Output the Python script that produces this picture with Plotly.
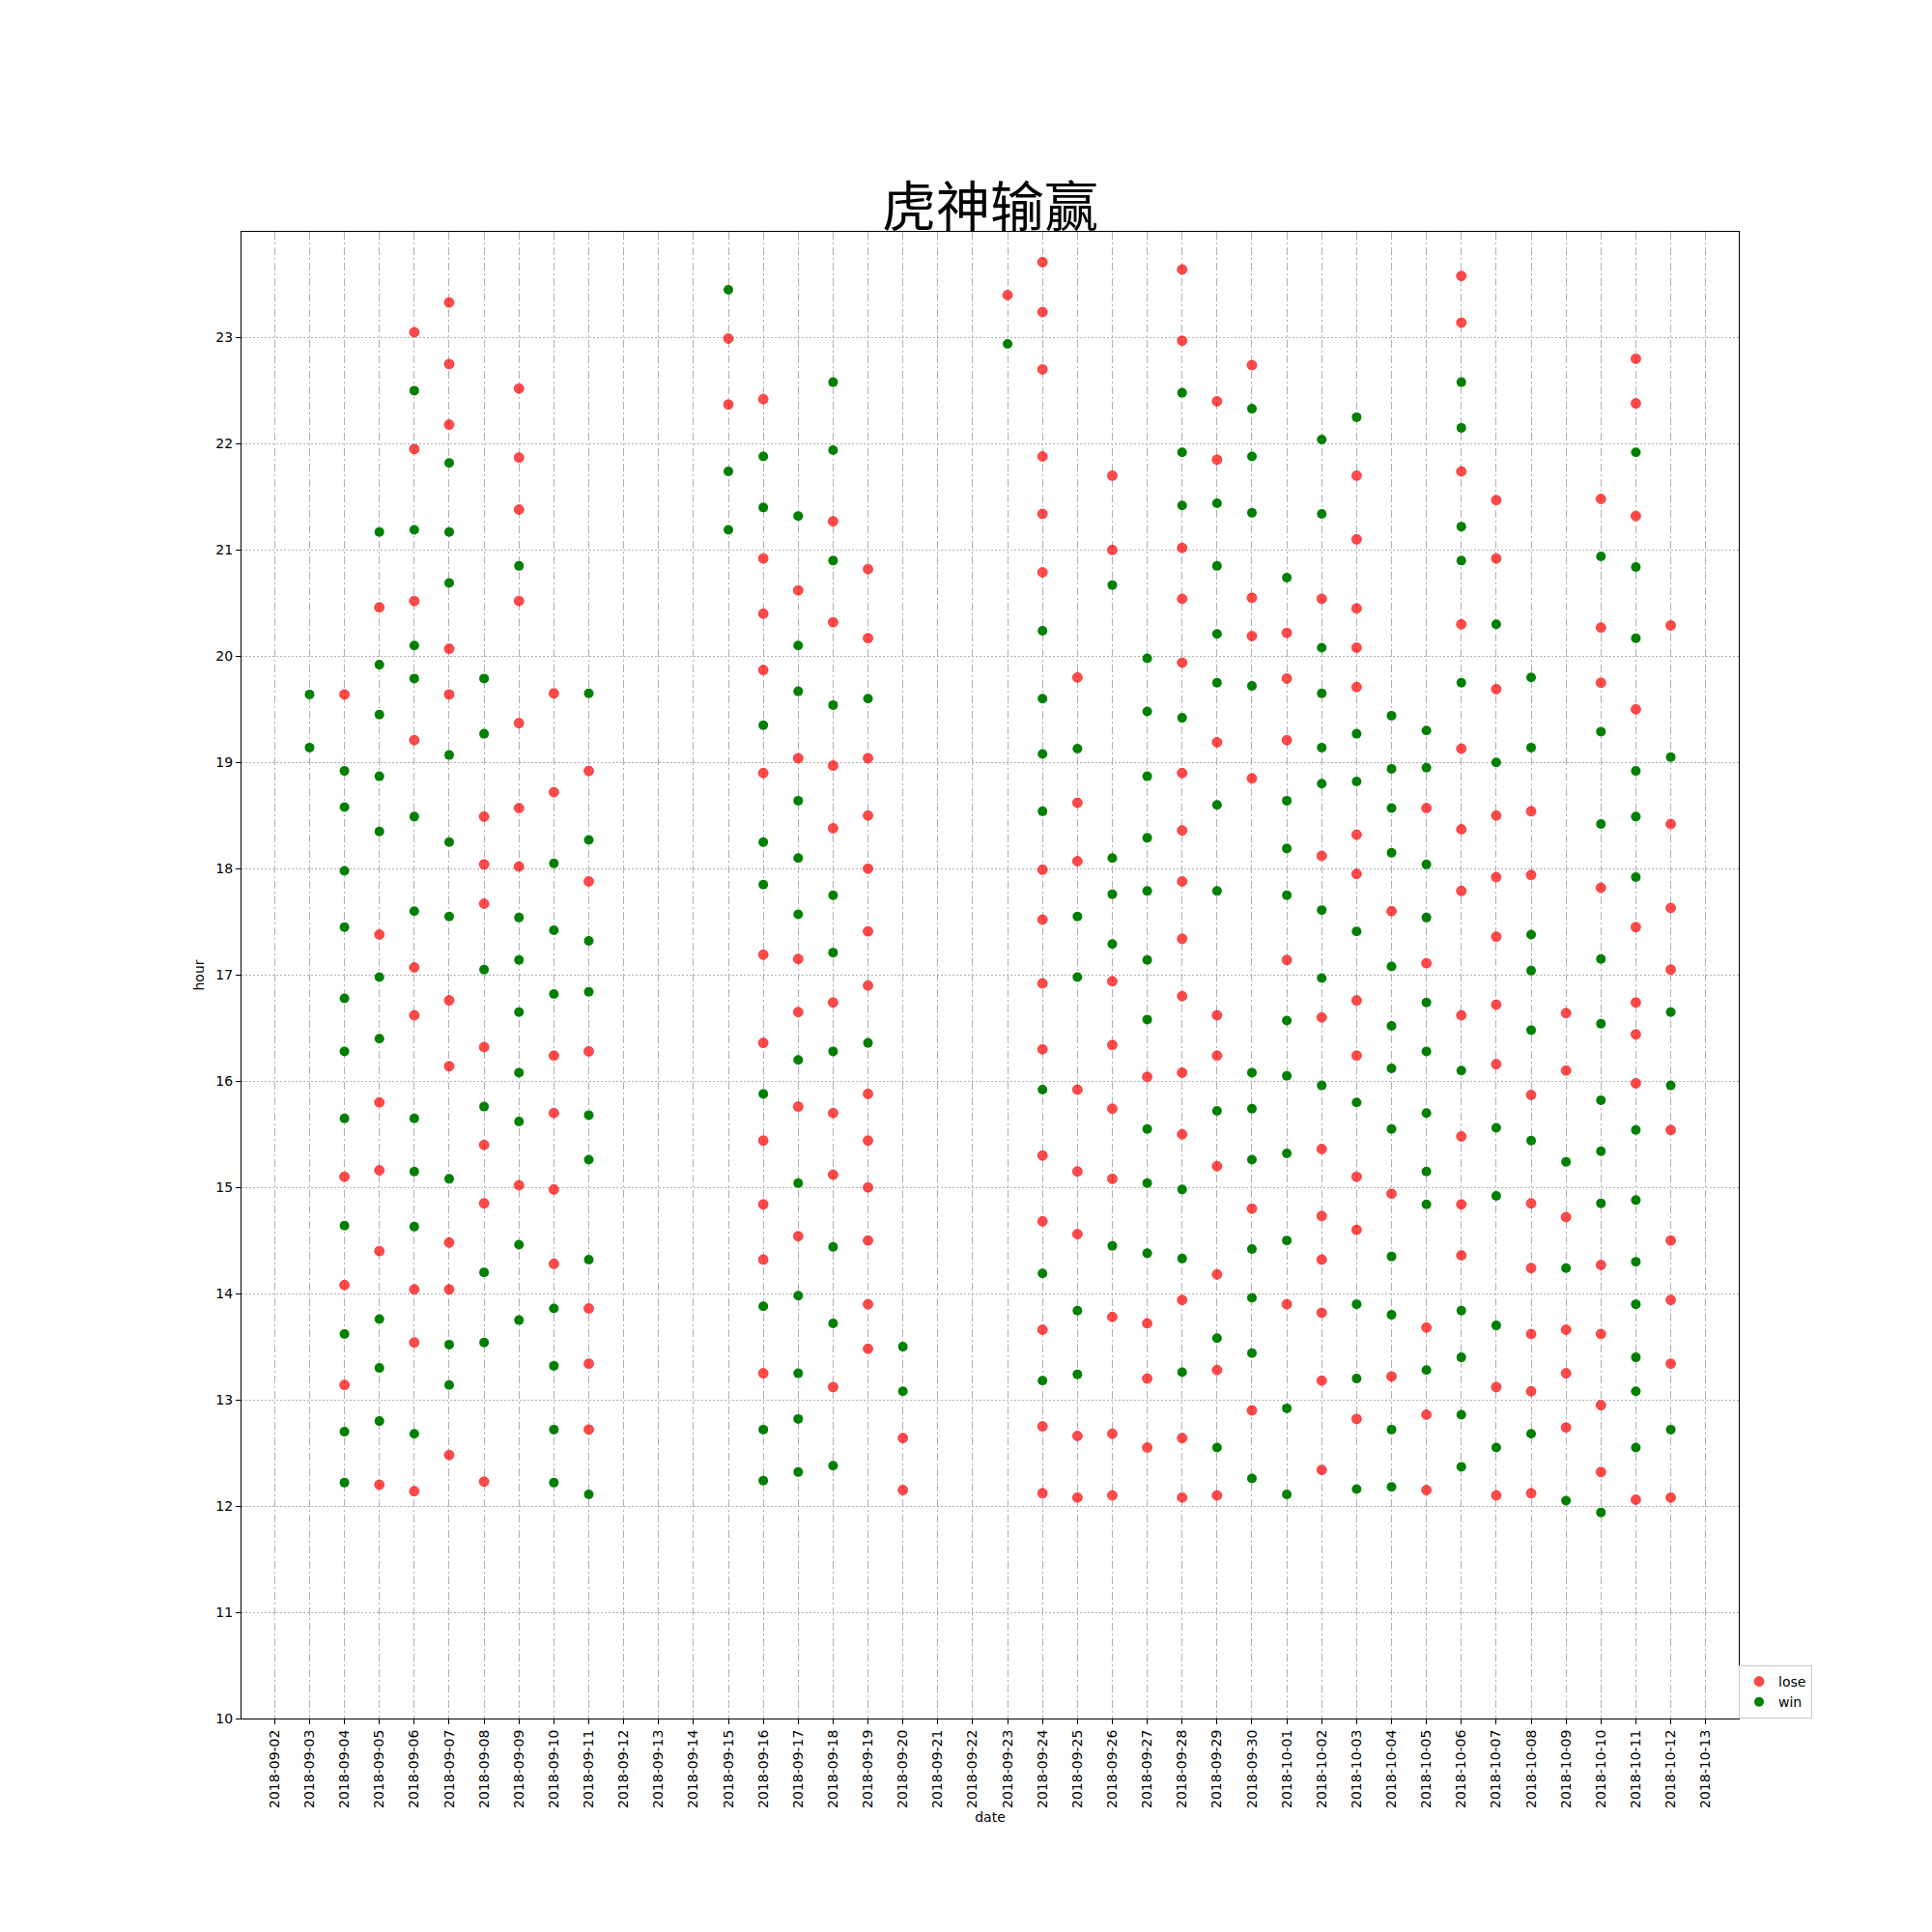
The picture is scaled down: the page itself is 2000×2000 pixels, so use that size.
import plotly.graph_objects as go

# ---- data: hours per date ----
lose_by_date = {
    "2018-09-04": [19.64, 15.10, 14.08, 13.14],
    "2018-09-05": [20.46, 17.38, 15.80, 15.16, 14.40, 12.20],
    "2018-09-06": [23.05, 21.95, 20.52, 19.21, 17.07, 16.62, 14.04, 13.54, 12.14],
    "2018-09-07": [23.33, 22.75, 22.18, 20.07, 19.64, 16.76, 16.14, 14.48, 14.04, 12.48],
    "2018-09-08": [18.49, 18.04, 17.67, 16.32, 15.40, 14.85, 12.23],
    "2018-09-09": [22.52, 21.87, 21.38, 20.52, 19.37, 18.57, 18.02, 15.02],
    "2018-09-10": [19.65, 18.72, 16.24, 15.70, 14.98, 14.28],
    "2018-09-11": [18.92, 17.88, 16.28, 13.86, 13.34, 12.72],
    "2018-09-15": [22.99, 22.37],
    "2018-09-16": [22.42, 20.92, 20.40, 19.87, 18.90, 17.19, 16.36, 15.44, 14.84, 14.32, 13.25],
    "2018-09-17": [20.62, 19.04, 17.15, 16.65, 15.76, 14.54],
    "2018-09-18": [21.27, 20.32, 18.97, 18.38, 16.74, 15.70, 15.12, 13.12],
    "2018-09-19": [20.82, 20.17, 19.04, 18.50, 18.00, 17.41, 16.90, 15.88, 15.44, 15.00, 14.50, 13.90, 13.48],
    "2018-09-20": [12.64, 12.15],
    "2018-09-23": [23.40],
    "2018-09-24": [23.71, 23.24, 22.70, 21.88, 21.34, 20.79, 17.99, 17.52, 16.92, 16.30, 15.30, 14.68, 13.66, 12.75, 12.12],
    "2018-09-25": [19.80, 18.62, 18.07, 15.92, 15.15, 14.56, 12.66, 12.08],
    "2018-09-26": [21.70, 21.00, 16.94, 16.34, 15.74, 15.08, 13.78, 12.68, 12.10],
    "2018-09-27": [16.04, 13.72, 13.20, 12.55],
    "2018-09-28": [23.64, 22.97, 21.02, 20.54, 19.94, 18.90, 18.36, 17.88, 17.34, 16.80, 16.08, 15.50, 13.94, 12.64, 12.08],
    "2018-09-29": [22.40, 21.85, 19.19, 16.62, 16.24, 15.20, 14.18, 13.28, 12.10],
    "2018-09-30": [22.74, 20.55, 20.19, 18.85, 14.80, 12.90],
    "2018-10-01": [20.22, 19.79, 19.21, 17.14, 13.90],
    "2018-10-02": [20.54, 18.12, 16.60, 15.36, 14.73, 14.32, 13.82, 13.18, 12.34],
    "2018-10-03": [21.70, 21.10, 20.45, 20.08, 19.71, 18.32, 17.95, 16.76, 16.24, 15.10, 14.60, 12.82],
    "2018-10-04": [17.60, 14.94, 13.22],
    "2018-10-05": [18.57, 17.11, 13.68, 12.86, 12.15],
    "2018-10-06": [23.58, 23.14, 21.74, 20.30, 19.13, 18.37, 17.79, 16.62, 15.48, 14.84, 14.36],
    "2018-10-07": [21.47, 20.92, 19.69, 18.50, 17.92, 17.36, 16.72, 16.16, 13.12, 12.10],
    "2018-10-08": [18.54, 17.94, 15.87, 14.85, 14.24, 13.62, 13.08, 12.12],
    "2018-10-09": [16.64, 16.10, 14.72, 13.66, 13.25, 12.74],
    "2018-10-10": [21.48, 20.27, 19.75, 17.82, 14.27, 13.62, 12.95, 12.32],
    "2018-10-11": [22.80, 22.38, 21.32, 19.50, 17.45, 16.74, 16.44, 15.98, 12.06],
    "2018-10-12": [20.29, 18.42, 17.63, 17.05, 15.54, 14.50, 13.94, 13.34, 12.08],
}

win_by_date = {
    "2018-09-03": [19.64, 19.14],
    "2018-09-04": [18.92, 18.58, 17.98, 17.45, 16.78, 16.28, 15.65, 14.64, 13.62, 12.70, 12.22],
    "2018-09-05": [21.17, 19.92, 19.45, 18.87, 18.35, 16.98, 16.40, 13.76, 13.30, 12.80],
    "2018-09-06": [22.50, 21.19, 20.10, 19.79, 18.49, 17.60, 15.65, 15.15, 14.63, 12.68],
    "2018-09-07": [21.82, 21.17, 20.69, 19.07, 18.25, 17.55, 15.08, 13.52, 13.14],
    "2018-09-08": [19.79, 19.27, 17.05, 15.76, 14.20, 13.54],
    "2018-09-09": [20.85, 17.54, 17.14, 16.65, 16.08, 15.62, 14.46, 13.75],
    "2018-09-10": [18.05, 17.42, 16.82, 13.86, 13.32, 12.72, 12.22],
    "2018-09-11": [19.65, 18.27, 17.32, 16.84, 15.68, 15.26, 14.32, 12.11],
    "2018-09-15": [23.45, 21.74, 21.19],
    "2018-09-16": [21.88, 21.40, 19.35, 18.25, 17.85, 15.88, 13.88, 12.72, 12.24],
    "2018-09-17": [21.32, 20.10, 19.67, 18.64, 18.10, 17.57, 16.20, 15.04, 13.98, 13.25, 12.82, 12.32],
    "2018-09-18": [22.58, 21.94, 20.90, 19.54, 17.75, 17.21, 16.28, 14.44, 13.72, 12.38],
    "2018-09-19": [19.60, 16.36],
    "2018-09-20": [13.50, 13.08],
    "2018-09-23": [22.94],
    "2018-09-24": [20.24, 19.60, 19.08, 18.54, 15.92, 14.19, 13.18],
    "2018-09-25": [19.13, 17.55, 16.98, 13.84, 13.24],
    "2018-09-26": [20.67, 18.10, 17.76, 17.29, 14.45],
    "2018-09-27": [19.98, 19.48, 18.87, 18.29, 17.79, 17.14, 16.58, 15.55, 15.04, 14.38],
    "2018-09-28": [22.48, 21.92, 21.42, 19.42, 14.98, 14.33, 13.26],
    "2018-09-29": [21.44, 20.85, 20.21, 19.75, 18.60, 17.79, 15.72, 13.58, 12.55],
    "2018-09-30": [22.33, 21.88, 21.35, 19.72, 16.08, 15.74, 15.26, 14.42, 13.96, 13.44, 12.26],
    "2018-10-01": [20.74, 18.64, 18.19, 17.75, 16.57, 16.05, 15.32, 14.50, 12.92, 12.11],
    "2018-10-02": [22.04, 21.34, 20.08, 19.65, 19.14, 18.80, 17.61, 16.97, 15.96],
    "2018-10-03": [22.25, 19.27, 18.82, 17.41, 15.80, 13.90, 13.20, 12.16],
    "2018-10-04": [19.44, 18.94, 18.57, 18.15, 17.08, 16.52, 16.12, 15.55, 14.35, 13.80, 12.72, 12.18],
    "2018-10-05": [19.30, 18.95, 18.04, 17.54, 16.74, 16.28, 15.70, 15.15, 14.84, 13.28],
    "2018-10-06": [22.58, 22.15, 21.22, 20.90, 19.75, 16.10, 13.84, 13.40, 12.86, 12.37],
    "2018-10-07": [20.30, 19.00, 15.56, 14.92, 13.70, 12.55],
    "2018-10-08": [19.80, 19.14, 17.38, 17.04, 16.48, 15.44, 12.68],
    "2018-10-09": [15.24, 14.24, 12.05],
    "2018-10-10": [20.94, 19.29, 18.42, 17.15, 16.54, 15.82, 15.34, 14.85, 11.94],
    "2018-10-11": [21.92, 20.84, 20.17, 18.92, 18.49, 17.92, 15.54, 14.88, 14.30, 13.90, 13.40, 13.08, 12.55],
    "2018-10-12": [19.05, 16.65, 15.96, 12.72],
}

y_ticks = [10, 11, 12, 13, 14, 15, 16, 17, 18, 19, 20, 21, 22, 23]
x_tick_first = "2018-09-02"


def flatten(d):
    xs, ys = [], []
    for day, hours in d.items():
        for h in hours:
            xs.append(day)
            ys.append(h)
    return xs, ys


lx, ly = flatten(lose_by_date)
wx, wy = flatten(win_by_date)

fig = go.Figure()
fig.add_trace(go.Scatter(
    x=lx, y=ly, mode="markers", name="lose",
    marker=dict(color="rgba(255,0,0,0.7)", size=10, line=dict(width=0.8, color="rgba(255,0,0,0.7)")),
))
fig.add_trace(go.Scatter(
    x=wx, y=wy, mode="markers", name="win",
    marker=dict(color="#008000", size=10, line=dict(width=0)),
))

tick_font = dict(family="DejaVu Sans", size=14, color="black")

fig.update_layout(
    width=2000, height=2000,
    margin=dict(l=250, r=200, t=240, b=221, pad=0),
    paper_bgcolor="white", plot_bgcolor="white",
    title=dict(
        text="虎神输赢", x=0.5, xref="paper", xanchor="center",
        y=1, yref="paper", yanchor="bottom", pad=dict(b=6),
        font=dict(family="Noto Sans CJK SC", size=56, color="black"),
    ),
    legend=dict(
        x=1, xanchor="left", y=0, yanchor="bottom",
        bordercolor="#cccccc", borderwidth=1, bgcolor="white",
        font=dict(family="DejaVu Sans", size=14, color="black"),
        itemwidth=30,
    ),
    xaxis=dict(
        type="date",
        range=["2018-09-01 01:12", "2018-10-13 22:48"],
        tick0=x_tick_first, dtick=86400000, tickformat="%Y-%m-%d",
        tickangle=-90, tickfont=tick_font,
        ticks="outside", ticklen=5, tickwidth=1, tickcolor="black",
        showgrid=True, gridcolor="#b0b0b0", gridwidth=1, griddash="8px,3px,2px,3px",
        showline=True, linecolor="black", linewidth=1, mirror=True,
        zeroline=False,
        title=dict(text="date", font=tick_font, standoff=5),
    ),
    yaxis=dict(
        range=[10, 23.995],
        tickvals=y_ticks, tickfont=tick_font,
        ticks="outside", ticklen=5, tickwidth=1, tickcolor="black",
        showgrid=True, gridcolor="#b0b0b0", gridwidth=1, griddash="2px,2px",
        showline=True, linecolor="black", linewidth=1, mirror=True,
        zeroline=False,
        title=dict(text="hour", font=tick_font, standoff=8),
    ),
)

fig.write_html("out.html")
